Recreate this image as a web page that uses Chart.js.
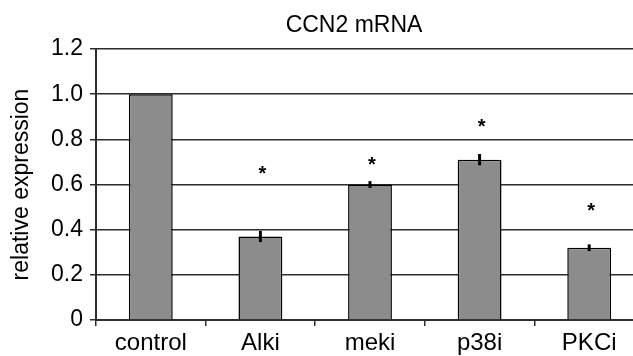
<!DOCTYPE html>
<html>
<head>
<meta charset="utf-8">
<script src="https://cdn.jsdelivr.net/npm/chart.js@4"></script>
<style>
  html, body { margin: 0; padding: 0; background: #fff; overflow: hidden; }
  #wrap { width: 648px; height: 356px; }
</style>
</head>
<body>
<div id="wrap"><canvas id="ccn2Chart"></canvas></div>
<script>
// data
const categories = ['control', 'Alki', 'meki', 'p38i', 'PKCi'];
const expression = [1.0, 0.37, 0.60, 0.71, 0.32];
const errors = [0, 0.025, 0.015, 0.025, 0.015];
const starAt = [null, 0.66, 0.70, 0.87, 0.50];
const yTicks = [0, 0.2, 0.4, 0.6, 0.8, 1.0, 1.2];

var barGrey = 'rgb(140, 140, 140)';
var lineDark = 'rgb(45, 45, 45)';
var font = 'Liberation Sans';

//---------------error bars + asterisks + title
const extrasPlugin = {
  id: 'extras',
  afterDatasetsDraw(chart) {
    const ctx = chart.ctx;
    const x = chart.scales.x, y = chart.scales.y;
    ctx.save();
    ctx.strokeStyle = '#000';
    ctx.lineWidth = 3;
    expression.forEach((v, i) => {
      if (!errors[i]) return;
      const px = x.getPixelForValue(i);
      ctx.beginPath();
      ctx.moveTo(px, y.getPixelForValue(v - errors[i]));
      ctx.lineTo(px, y.getPixelForValue(v + errors[i]));
      ctx.stroke();
    });
    ctx.fillStyle = '#000';
    ctx.font = 'bold 20px ' + font;
    ctx.textAlign = 'center';
    ctx.textBaseline = 'middle';
    starAt.forEach((s, i) => {
      if (s == null) return;
      ctx.fillText('*', x.getPixelForValue(i) + 2, y.getPixelForValue(s) + 4);
    });
    ctx.font = '23px ' + font;
    ctx.fillText('CCN2 mRNA', 354, 26);
    ctx.restore();
  }
};

new Chart(
  document.getElementById('ccn2Chart'), {
    type: 'bar',
    data: {
      labels: categories,
      datasets: [{
        label: 'CCN2 mRNA',
        data: expression,
        backgroundColor: barGrey,
        borderColor: '#000',
        borderWidth: 1.5,
        barPercentage: 0.4,
        categoryPercentage: 1.0
      }]
    },
    options: {
      responsive: true,
      maintainAspectRatio: false,
      animation: false,
      layout: { padding: { top: 49, right: 4, left: 0, bottom: 0 } },
      plugins: {
        legend: { display: false },
        tooltip: { enabled: false },
        title: { display: false }
      },
      scales: {
        x: {
          offset: true,
          grid: {
            offset: true,
            drawOnChartArea: false,
            tickLength: 6,
            color: lineDark,
            lineWidth: 1.5
          },
          border: { color: lineDark, width: 2 },
          ticks: { color: '#000', padding: 3, font: { family: font, size: 24 } },
          afterFit(scale) { scale.height = 36; }
        },
        y: {
          min: 0,
          max: 1.2,
          afterBuildTicks(scale) { scale.ticks = yTicks.map(v => ({ value: v })); },
          grid: { color: lineDark, lineWidth: 1.5, tickLength: 6 },
          border: { color: lineDark, width: 2 },
          ticks: {
            color: '#000',
            padding: 7,
            font: { family: font, size: 23 },
            callback: v => v === 0 ? '0' : v.toFixed(1)
          },
          title: {
            display: true,
            text: 'relative expression',
            color: '#000',
            font: { family: font, size: 23 },
            padding: { top: 8, bottom: 6 }
          },
          afterFit(scale) { scale.width = 96; }
        }
      }
    },
    plugins: [extrasPlugin]
  }
);
</script>
</body>
</html>
